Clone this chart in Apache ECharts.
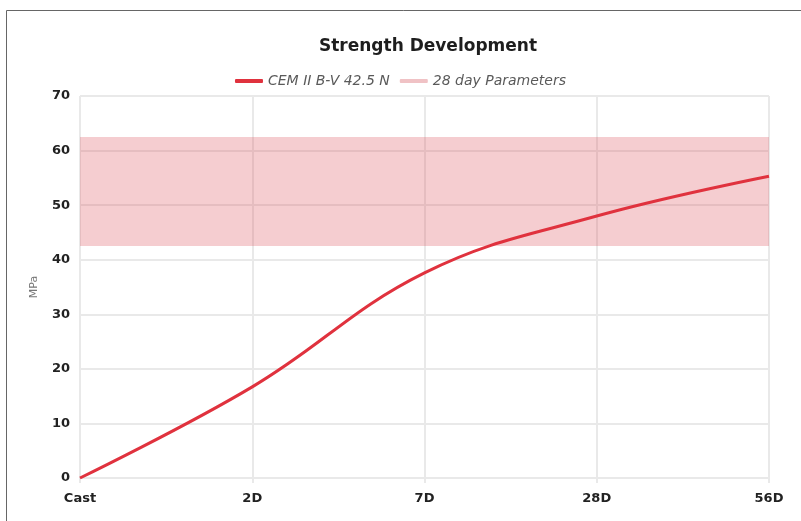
<!DOCTYPE html>
<html>
<head>
<meta charset="utf-8">
<script src="https://cdn.jsdelivr.net/npm/echarts@6/dist/echarts.min.js"></script>
<style>
html,body{margin:0;padding:0;background:#fff;}
#c{width:801px;height:521px;}
</style>
</head>
<body>
<div id="c"></div>
<script>
const categories = ['Cast', '2D', '7D', '28D', '56D'];
const strength = [0, 16.7, 37.6, 48.0, 55.3];
const bandMin = 42.5;
const bandMax = 62.5;
const yTicks = { min: 0, max: 70, interval: 10 };
const titleText = 'Strength Development';
const seriesName = 'CEM II B-V 42.5 N';
const bandName = '28 day Parameters';
const yName = 'MPa';

const chart = echarts.init(document.getElementById('c'), null, { renderer: 'canvas' });
const gridColor = '#e9e9e9';
const boldFont = 'DejaVu Sans';
chart.setOption({
  animation: false,
  backgroundColor: '#fff',
  textStyle: { fontFamily: boldFont },
  title: {
    text: titleText,
    left: 423, top: 33, textAlign: 'center',
    textStyle: { fontFamily: boldFont, fontWeight: 'bold', fontSize: 17, color: '#1e1e1e' }
  },
  legend: {
    left: 'center', top: 69,
    itemWidth: 28, itemHeight: 4, itemGap: 10,
    icon: 'roundRect',
    textStyle: { fontFamily: boldFont, fontStyle: 'italic', fontSize: 14, color: '#5a5a5a' },
    data: [seriesName, bandName]
  },
  grid: { left: 80, right: 32, top: 96, bottom: 43 },
  xAxis: {
    type: 'category',
    data: categories,
    boundaryGap: false,
    axisLine: { lineStyle: { color: gridColor, width: 2 } },
    axisTick: { show: true, length: 5, lineStyle: { color: gridColor, width: 2 } },
    splitLine: { show: true, lineStyle: { color: gridColor, width: 2 } },
    axisLabel: { fontFamily: boldFont, fontWeight: 'bold', fontSize: 13, color: '#222', margin: 14 }
  },
  yAxis: {
    type: 'value',
    min: yTicks.min, max: yTicks.max, interval: yTicks.interval,
    name: yName, nameLocation: 'middle', nameGap: 40, nameRotate: 90,
    nameTextStyle: { fontFamily: boldFont, fontSize: 11, color: '#777' },
    axisLine: { show: false },
    axisTick: { show: false },
    splitLine: { lineStyle: { color: gridColor, width: 2 } },
    axisLabel: { fontFamily: boldFont, fontWeight: 'bold', fontSize: 13, color: '#222', margin: 10 }
  },
  series: [
    {
      name: bandName,
      type: 'line',
      data: [],
      itemStyle: { color: '#f0c2c5' },
      lineStyle: { color: '#f0c2c5' },
      markArea: {
        silent: true,
        itemStyle: { color: 'rgba(222, 90, 100, 0.3)' },
        data: [[{ yAxis: bandMin }, { yAxis: bandMax }]]
      }
    },
    {
      name: seriesName,
      type: 'line',
      data: strength,
      smooth: 0.4,
      symbol: 'none',
      z: 5,
      itemStyle: { color: '#e0323e' },
      lineStyle: { color: '#e0323e', width: 3 }
    }
  ],
  graphic: [{
    type: 'polyline',
    silent: true,
    shape: { points: [[6.5, 521], [6.5, 10.5], [801, 10.5]] },
    style: { stroke: '#666', lineWidth: 1, fill: null }
  }]
});
</script>
</body>
</html>
